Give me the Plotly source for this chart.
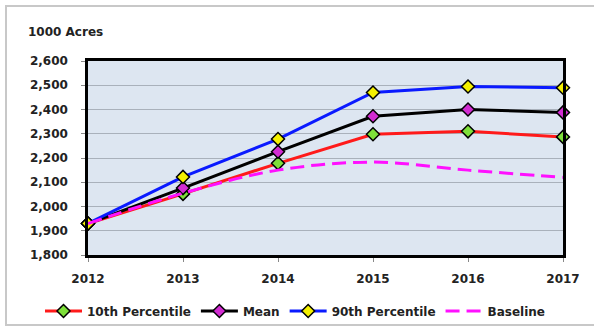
import plotly.graph_objects as go

years = [2012, 2013, 2014, 2015, 2016, 2017]
p10 = [1930, 2052, 2178, 2298, 2310, 2287]
mean = [1930, 2076, 2226, 2372, 2400, 2388]
p90 = [1930, 2122, 2278, 2470, 2495, 2490]
baseline = [1930, 2055, 2150, 2183, 2150, 2120]
yticks = [1800, 1900, 2000, 2100, 2200, 2300, 2400, 2500, 2600]

FONT = "DejaVu Sans"
L, R, T, B = 88, 31, 61, 74
W, H = 594, 329
pw, ph = W - L - R, H - T - B

def px(x):
    return (x - L) / pw

def py(y):
    return (H - B - y) / ph

fig = go.Figure()
fig.add_trace(go.Scatter(x=years, y=p10, name="10th Percentile", mode="lines+markers",
                         cliponaxis=False,
                         line=dict(color="#ff1a1a", width=3),
                         marker=dict(symbol="diamond", size=10, color="#7ee03a",
                                     line=dict(color="black", width=1.5))))
fig.add_trace(go.Scatter(x=years, y=mean, name="Mean", mode="lines+markers",
                         cliponaxis=False,
                         line=dict(color="black", width=3),
                         marker=dict(symbol="diamond", size=10, color="#d22cd2",
                                     line=dict(color="black", width=1.5))))
fig.add_trace(go.Scatter(x=years, y=p90, name="90th Percentile", mode="lines+markers",
                         cliponaxis=False,
                         line=dict(color="#0a1aff", width=3),
                         marker=dict(symbol="diamond", size=10, color="#f4f000",
                                     line=dict(color="black", width=1.5))))
fig.add_trace(go.Scatter(x=years, y=baseline, name="Baseline", mode="lines",
                         line=dict(color="#ff10ff", width=3, dash="14px,7px", shape="spline")))

fig.update_layout(
    width=W, height=H,
    margin=dict(l=L, r=R, t=T, b=B, autoexpand=False),
    paper_bgcolor="white",
    plot_bgcolor="#dde6f1",
    font=dict(family=FONT, size=12, color="#222222"),
    showlegend=True,
    legend=dict(orientation="h", x=px(40), xanchor="left", y=py(311), yanchor="middle",
                font=dict(family=FONT, size=12, color="#222222", weight="bold"),
                bgcolor="rgba(0,0,0,0)", tracegroupgap=0, itemwidth=37),
    xaxis=dict(range=[2012, 2017], tickvals=years, ticktext=[str(y) for y in years],
               showgrid=False, zeroline=False,
               showline=True, linecolor="black", linewidth=2.5, mirror=True,
               ticks="outside", ticklen=4, tickcolor="#888888",
               tickfont=dict(family=FONT, size=12, color="#222222", weight="bold"),
               ticklabelstandoff=7),
    yaxis=dict(range=[1800, 2600], tickvals=yticks,
               ticktext=[f"{v:,}" for v in yticks],
               showgrid=True, gridcolor="#a9b1bb", gridwidth=1, zeroline=False,
               showline=True, linecolor="black", linewidth=2.5, mirror=True,
               ticks="outside", ticklen=4, tickcolor="#888888",
               tickfont=dict(family=FONT, size=12, color="#222222", weight="bold"),
               ticklabelstandoff=11),
    annotations=[dict(text="<b>1000 Acres</b>", x=px(26), y=py(32), xref="paper", yref="paper",
                      xanchor="left", yanchor="middle", showarrow=False,
                      font=dict(family=FONT, size=12, color="#222222"))],
    shapes=[dict(type="rect", xref="paper", yref="paper",
                 x0=px(6), x1=px(620), y0=py(325), y1=py(6),
                 line=dict(color="#c8c8c8", width=2), layer="below")],
)

fig.write_html("out.html")
